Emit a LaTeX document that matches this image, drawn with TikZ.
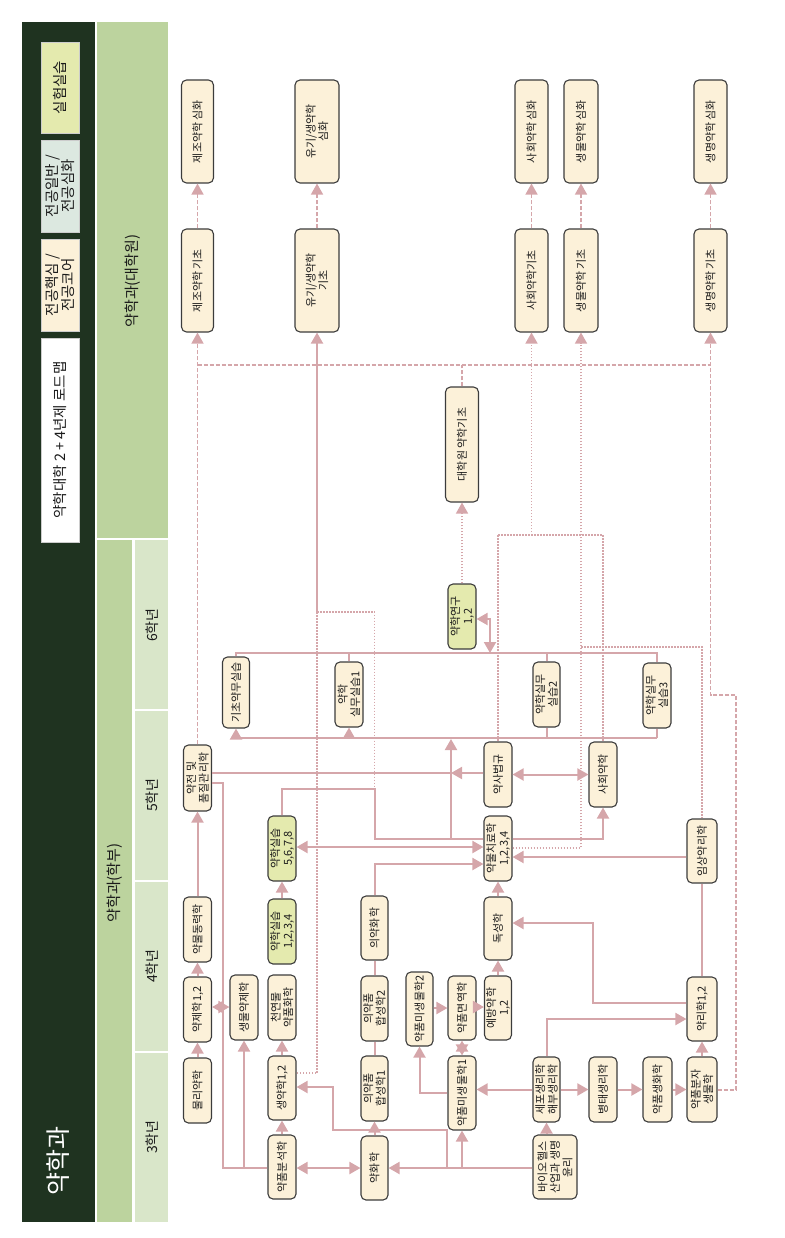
\documentclass[tikz,border=0pt]{standalone}
\usepackage{fontspec}
\usetikzlibrary{arrows.meta}
\newfontfamily\kr{Noto Sans CJK KR}
\definecolor{dkg}{HTML}{1F3320}
\definecolor{band}{HTML}{BCD39E}
\definecolor{yearc}{HTML}{D9E6C9}
\definecolor{cream}{HTML}{FCF1D9}
\definecolor{lab}{HTML}{E4EAAE}
\definecolor{mint}{HTML}{DCE8E0}
\definecolor{lnk}{HTML}{D5A6AA}
\definecolor{boxline}{HTML}{3C3C3C}
\definecolor{txt}{HTML}{1A1A1A}
\tikzset{
  >={Triangle[length=11pt,width=12pt]},
  bx/.style={draw=boxline, fill=cream, rounded corners=5pt, line width=1.1pt, rotate=90,
    inner sep=0pt, align=center, text=txt, font=\kr\fontsize{11}{12.5}\selectfont},
  gbx/.style={bx, fill=lab},
  lg/.style={draw=gray!40, line width=0.6pt, rotate=90, inner sep=0pt, align=center,
    text=txt, font=\kr\fontsize{14.5}{16}\selectfont, minimum height=38pt},
  bandlabel/.style={rotate=90, text=txt, font=\kr\fontsize{15}{17}\selectfont},
  yearlabel/.style={rotate=90, text=txt, font=\kr\fontsize{14}{16}\selectfont},
  ln/.style={draw=lnk, line width=2pt},
  dsh/.style={draw=lnk, line width=1.5pt, dash pattern=on 4pt off 2pt},
  dot/.style={draw=lnk, line width=1.5pt, dash pattern=on 1.5pt off 1.5pt},
}
\begin{document}
\begin{tikzpicture}[x=1pt,y=-1pt]
\useasboundingbox (0,0) rectangle (784,1238);
% header strip
\fill[dkg] (22,22) rectangle (95,1222);
\node[lg, fill=white, minimum width=204pt] (lg0) at (60,440) {약학대학 2 + 4년제 로드맵};
\node[lg, fill=cream, minimum width=92pt] (lg1) at (60,285) {전공핵심 /\\전공코어};
\node[lg, fill=mint, minimum width=92pt] (lg2) at (60,186) {전공일반 /\\전공심화};
\node[lg, fill=lab, minimum width=91pt] (lg3) at (60,87.5) {실험실습};
\node[rotate=90, text=white, font=\kr\fontsize{25}{28}\selectfont] (title) at (58,1161) {약학과};
% bands
\fill[band] (97,22) rectangle (168,538);
\node[bandlabel] (gl) at (133,281) {약학과(대학원)};
\fill[band] (97,540) rectangle (132,1222);
\node[bandlabel] (ul) at (114.5,883) {약학과(학부)};
\fill[yearc] (135,540) rectangle (168,709);
\fill[yearc] (135,711) rectangle (168,880);
\fill[yearc] (135,882) rectangle (168,1051);
\fill[yearc] (135,1053) rectangle (168,1222);
\node[yearlabel] (y6) at (152,625) {6학년};
\node[yearlabel] (y5) at (152,795) {5학년};
\node[yearlabel] (y4) at (152,966) {4학년};
\node[yearlabel] (y3) at (152,1137) {3학년};

% graduate boxes
\node[bx, minimum width=103pt, minimum height=32pt] (g1) at (197.5,131.5) {제조약학 심화};
\node[bx, minimum width=103pt, minimum height=44pt] (g2) at (317,131.5) {유기/생약학\\심화};
\node[bx, minimum width=103pt, minimum height=33pt] (g3) at (531.5,131.5) {사회약학 심화};
\node[bx, minimum width=103pt, minimum height=34pt] (g4) at (581,131.5) {생물약학 심화};
\node[bx, minimum width=103pt, minimum height=33pt] (g5) at (710.5,131.5) {생명약학 심화};
\node[bx, minimum width=103pt, minimum height=32pt] (b1) at (197.5,280.5) {제조약학 기초};
\node[bx, minimum width=103pt, minimum height=44pt] (b2) at (317,280.5) {유기/생약학\\기초};
\node[bx, minimum width=103pt, minimum height=33pt] (b3) at (531.5,280.5) {사회약학기초};
\node[bx, minimum width=103pt, minimum height=34pt] (b4) at (581,280.5) {생물약학 기초};
\node[bx, minimum width=103pt, minimum height=33pt] (b5) at (710.5,280.5) {생명약학 기초};
\node[bx, minimum width=115pt, minimum height=33pt] (gb) at (462,444.5) {대학원 약학기초};
\node[gbx, minimum width=65pt, minimum height=28pt] (rs) at (462,616.5) {약학연구\\1,2};

% practicum
\node[bx, minimum width=71pt, minimum height=27pt] (p0) at (236,692.5) {기초약무실습};
\node[bx, minimum width=65pt, minimum height=28pt] (p1) at (349,694.5) {약학\\실무실습1};
\node[bx, minimum width=65pt, minimum height=27pt] (p2) at (546.5,694.5) {약학실무\\실습2};
\node[bx, minimum width=65pt, minimum height=28pt] (p3) at (657,695.5) {약학실무\\실습3};

% 5th year
\node[bx, minimum width=66pt, minimum height=28pt] (q1) at (197.5,778) {약전 및\\품질관리학};
\node[gbx, minimum width=65pt, minimum height=28pt] (q2) at (282,848.5) {약학실습\\5,6,7,8};
\node[bx, minimum width=65pt, minimum height=28pt] (q3) at (498,774.5) {약사법규};
\node[bx, minimum width=65pt, minimum height=28pt] (q4) at (603,774.5) {사회약학};
\node[bx, minimum width=65pt, minimum height=28pt] (q5) at (498,848.5) {약물치료학\\1,2,3,4};
\node[bx, minimum width=64pt, minimum height=30pt] (q6) at (702,851) {임상약리학};

% 4th year
\node[bx, minimum width=65pt, minimum height=28pt] (r1) at (197.5,929.5) {약물동력학};
\node[gbx, minimum width=65pt, minimum height=28pt] (r2) at (282,931.5) {약학실습\\1,2,3,4};
\node[bx, minimum width=64pt, minimum height=27pt] (r3) at (374.5,928) {의약화학};
\node[bx, minimum width=63pt, minimum height=28pt] (r4) at (498,928.5) {독성학};
\node[bx, minimum width=65pt, minimum height=28pt] (s1) at (197.5,1009.5) {약제학1,2};
\node[bx, minimum width=65pt, minimum height=28pt] (s2) at (244,1007.5) {생물약제학};
\node[bx, minimum width=65pt, minimum height=28pt] (s3) at (282,1007.5) {천연물\\약품화학};
\node[bx, minimum width=65pt, minimum height=27pt] (s4) at (374.5,1008.5) {의약품\\합성학2};
\node[bx, minimum width=74pt, minimum height=27pt] (s5) at (419.5,1009) {약품미생물학2};
\node[bx, minimum width=64pt, minimum height=28pt] (s6) at (462,1008) {약품면역학};
\node[bx, minimum width=64pt, minimum height=27pt] (s7) at (498,1008) {예방약학\\1,2};
\node[bx, minimum width=64pt, minimum height=30pt] (s8) at (702,1009) {약리학1,2};

% 3rd year
\node[bx, minimum width=65pt, minimum height=28pt] (t1) at (197.5,1090.5) {물리약학};
\node[bx, minimum width=64pt, minimum height=28pt] (t2) at (282,1088) {생약학1,2};
\node[bx, minimum width=65pt, minimum height=27pt] (t3) at (374.5,1088.5) {의약품\\합성학1};
\node[bx, minimum width=74pt, minimum height=28pt] (t4) at (462,1093) {약품미생물학1};
\node[bx, minimum width=65pt, minimum height=27pt] (t5) at (546.5,1089.5) {세포생리학\\해부생리학};
\node[bx, minimum width=65pt, minimum height=28pt] (t6) at (603,1089.5) {병태생리학};
\node[bx, minimum width=65pt, minimum height=29pt] (t7) at (657.5,1089.5) {약품생화학};
\node[bx, minimum width=65pt, minimum height=30pt] (t8) at (702,1089.5) {약품분자\\생물학};
\node[bx, minimum width=64pt, minimum height=28pt] (u1) at (282,1167) {약품분석학};
\node[bx, minimum width=64pt, minimum height=27pt] (u2) at (374.5,1168) {약화학};
\node[bx, minimum width=64pt, minimum height=44pt] (u3) at (555,1167) {바이오헬스\\산업과 생명\\윤리};

% ---------- graduate connectors
\draw[dsh,->] (b1.east) -- (g1.west);
\draw[dsh,->] (b2.east) -- (g2.west);
\draw[dsh,->] (b3.east) -- (g3.west);
\draw[dsh,->] (b4.east) -- (g4.west);
\draw[dsh,->] (b5.east) -- (g5.west);
\draw[dsh] (gb.east) -- (gb.east |- 0,365);
\draw[dsh] (b1.west |- 0,365) -- (b5.west |- 0,365);
\draw[dsh,->] (q1.east) -- (b1.west);
\draw[dot,->] (rs.east) -- (gb.west);
\draw[ln,->] (b2.west |- 0,612) -- (b2.west);
\draw[dot] (b2.west |- 0,612) -- (r3.center |- 0,612) -- (r3.center |- 0,789);
\draw[dot] (b2.west |- 0,612) -- (b2.west |- 0,1073) -- (t2.south |- 0,1073);
\draw[dot,->] (b3.west |- 0,535) -- (b3.west);
\draw[dot] (q3.east |- 0,535) -- (q4.east |- 0,535);
\draw[dot] (q3.east |- 0,535) -- (q3.east);
\draw[dot] (q4.east |- 0,535) -- (q4.east);
\draw[dot,->] (q5.south |- 0,848) -- (b4.west |- 0,848) -- (b4.west);
\draw[dot] (b4.west |- 0,647) -- (q6.east |- 0,647) -- (q6.east);
\draw[dsh,->] (t8.south |- 0,1090) -- (736,1090) -- (736,695) -- (b5.west |- 0,695) -- (b5.west);

% ---------- practicum connectors
\draw[ln] (p0.east) -- (p0.east |- 0,653) -- (p3.east |- 0,653) -- (p3.east);
\draw[ln] (p1.east) -- (p1.east |- 0,653);
\draw[ln] (p2.east) -- (p2.east |- 0,653);
\draw[ln,<->] (rs.south |- 0,619) -- (490,619) -- (490,653);
\draw[ln] (p0.west |- 0,738) -- (p3.west |- 0,738);
\draw[ln,->] (p0.west |- 0,738) -- (p0.west);
\draw[ln,->] (p1.west |- 0,738) -- (p1.west);
\draw[ln] (p2.west |- 0,738) -- (p2.west);
\draw[ln] (p3.west |- 0,738) -- (p3.west);
\draw[ln,->] (451,839) -- (451,739);

% ---------- undergraduate connectors
\draw[ln] (q1.south |- 0,773) -- (451,773);
\draw[ln,->] (q3.north |- 0,773) -- (451,773);
\draw[ln,<->] (q3.south) -- (q4.north);
\draw[ln] (q2.east) -- (q2.east |- 0,789) -- (r3.center |- 0,789) -- (r3.center |- 0,839) -- (q5.north |- 0,839);
\draw[ln,<->] (q2.south |- 0,847) -- (q5.north |- 0,847);
\draw[ln,->] (r3.east) -- (r3.east |- 0,864) -- (q5.north |- 0,864);
\draw[ln,->] (q5.south |- 0,839) -- (q4.west |- 0,839) -- (q4.west);
\draw[ln,->] (q6.north |- 0,857) -- (q5.south |- 0,857);
\draw[ln,->] (r4.east) -- (q5.west);
\draw[ln,->] (r2.east) -- (q2.west);
\draw[ln,->] (r1.east) -- (q1.west);
\draw[ln,->] (s1.east) -- (r1.west);
\draw[ln,->] (t1.east) -- (s1.west);
\draw[ln,<->] (s1.south |- 0,1007) -- (s2.north |- 0,1007);
\draw[ln,->] (t2.east) -- (s3.west);
\draw[ln,->] (u1.east) -- (t2.west);
\draw[ln,<->] (u1.south |- 0,1168) -- (u2.north |- 0,1168);
\draw[ln] (u1.north |- 0,1168) -- (223,1168) -- (223,783) -- (q1.south |- 0,783);
\draw[ln,->] (s2.west |- 0,1168) -- (s2.west);
\draw[ln] (t3.east) -- (s4.west);
\draw[ln] (s4.east) -- (r3.west);
\draw[ln,->] (u2.east) -- (t3.west);
\draw[ln,->] (u3.north |- 0,1168) -- (u2.south |- 0,1168);
\draw[ln,->] (t4.west |- 0,1168) -- (t4.west);
\draw[ln,->] (447,1168) -- (447,1130) -- (333,1130) -- (333,1087) -- (t2.south |- 0,1087);
\draw[ln,<->] (t4.east) -- (s6.west);
\draw[ln,->] (t4.north |- 0,1093) -- (s5.west |- 0,1093) -- (s5.west);
\draw[ln,->] (s5.south |- 0,1008) -- (s6.north |- 0,1008);
\draw[ln,->] (s6.south |- 0,1007) -- (s7.north |- 0,1007);
\draw[ln,->] (s7.east) -- (r4.west);
\draw[ln,->] (s8.north |- 0,1003) -- (593,1003) -- (593,923) -- (r4.south |- 0,923);
\draw[ln,->] (t5.east) -- (t5.east |- 0,1019) -- (s8.north |- 0,1019);
\draw[ln,->] (t5.north) -- (t4.south |- t5.north);
\draw[ln,->] (t5.south) -- (t6.north);
\draw[ln,->] (t6.south) -- (t7.north);
\draw[ln,->] (t7.south) -- (t8.north);
\draw[ln,->] (t8.east) -- (s8.west);
\draw[ln] (s8.east) -- (q6.west);
\draw[ln,->] (u3.east -| t5.west) -- (t5.west);
\end{tikzpicture}
\end{document}
